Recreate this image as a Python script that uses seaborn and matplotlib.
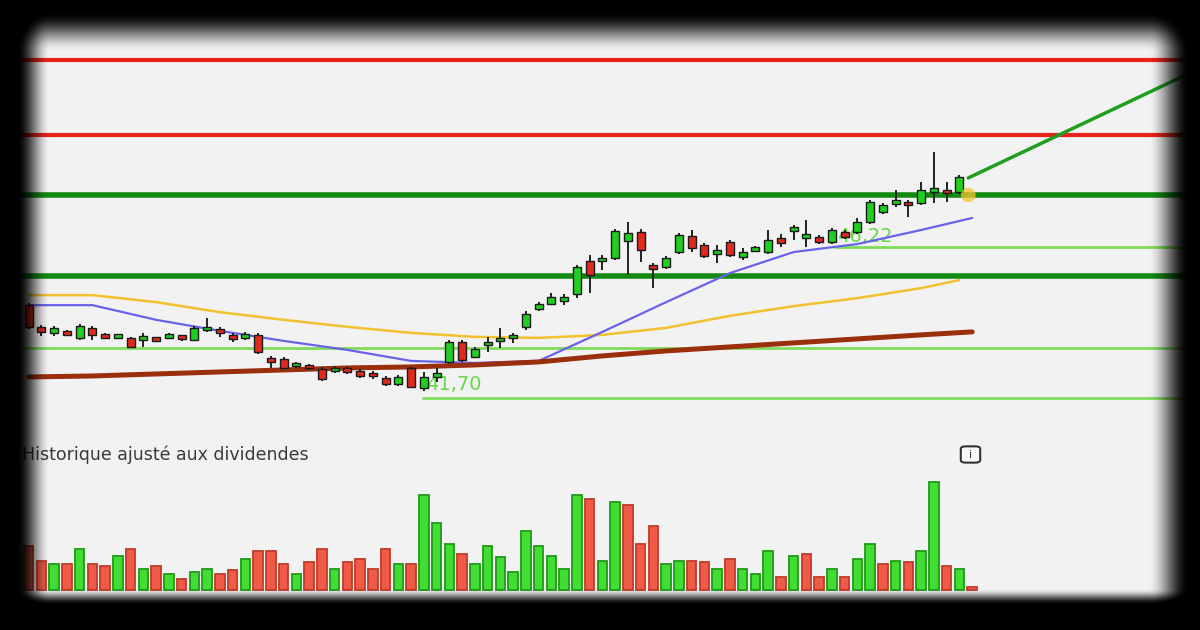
import numpy as np
import pandas as pd
import matplotlib
matplotlib.use("Agg")
import matplotlib.pyplot as plt
import seaborn as sns
from matplotlib.patches import FancyBboxPatch

# ---------------- data ----------------
opens = [44.48, 43.83, 43.65, 43.68, 43.50, 43.80, 43.59, 43.53, 43.50, 43.47,
         43.50, 43.53, 43.56, 43.44, 43.74, 43.77, 43.59, 43.53, 43.59, 42.87,
         42.87, 42.66, 42.69, 42.57, 42.51, 42.60, 42.51, 42.45, 42.30, 42.12,
         42.60, 42.00, 42.33, 42.78, 43.38, 42.93, 43.29, 43.41, 43.50, 43.83,
         44.37, 44.51, 44.63, 44.81, 45.80, 45.80, 45.89, 46.40, 46.67, 45.68,
         45.62, 46.07, 46.55, 46.28, 46.04, 46.37, 45.92, 46.13, 46.07, 46.49,
         46.70, 46.52, 46.52, 46.37, 46.67, 46.67, 46.97, 47.27, 47.54, 47.57,
         47.54, 47.87, 47.93, 47.87]
highs = [44.54, 43.89, 43.86, 43.74, 43.92, 43.86, 43.65, 43.62, 43.53, 43.65,
         43.53, 43.65, 43.59, 43.86, 44.10, 43.83, 43.65, 43.68, 43.65, 42.96,
         42.93, 42.78, 42.72, 42.63, 42.66, 42.63, 42.57, 42.51, 42.36, 42.39,
         42.63, 42.48, 42.60, 43.44, 43.44, 43.23, 43.53, 43.80, 43.65, 44.31,
         44.57, 44.84, 44.81, 45.68, 45.98, 45.98, 46.76, 46.97, 46.76, 45.74,
         45.95, 46.64, 46.73, 46.34, 46.28, 46.43, 46.19, 46.25, 46.73, 46.61,
         46.88, 47.03, 46.58, 46.79, 46.73, 47.09, 47.63, 47.54, 47.93, 47.63,
         48.17, 49.07, 48.17, 48.38]
lows = [43.77, 43.56, 43.56, 43.56, 43.44, 43.44, 43.47, 43.47, 43.20, 43.23,
        43.38, 43.50, 43.41, 43.41, 43.68, 43.53, 43.38, 43.44, 43.02, 42.60,
        42.57, 42.60, 42.54, 42.21, 42.45, 42.42, 42.30, 42.27, 42.06, 42.06,
        42.00, 41.91, 42.18, 42.72, 42.78, 42.90, 43.08, 43.20, 43.35, 43.74,
        44.31, 44.48, 44.48, 44.69, 44.84, 45.53, 45.83, 45.38, 45.77, 44.99,
        45.56, 46.01, 46.07, 45.89, 45.74, 45.92, 45.83, 46.07, 46.01, 46.22,
        46.43, 46.22, 46.31, 46.31, 46.46, 46.61, 46.91, 47.21, 47.42, 47.12,
        47.48, 47.54, 47.57, 47.81]
closes = [43.83, 43.68, 43.80, 43.62, 43.86, 43.59, 43.53, 43.59, 43.23, 43.53,
          43.44, 43.59, 43.50, 43.80, 43.83, 43.65, 43.47, 43.59, 43.08, 42.81,
          42.60, 42.75, 42.60, 42.27, 42.60, 42.48, 42.36, 42.36, 42.12, 42.33,
          42.03, 42.33, 42.45, 43.38, 42.84, 43.17, 43.38, 43.50, 43.59, 44.22,
          44.51, 44.72, 44.69, 45.62, 45.38, 45.89, 46.70, 46.64, 46.13, 45.56,
          45.89, 46.58, 46.19, 45.95, 46.10, 45.98, 46.07, 46.19, 46.43, 46.34,
          46.82, 46.58, 46.37, 46.73, 46.52, 46.97, 47.57, 47.48, 47.60, 47.48,
          47.93, 47.99, 47.84, 48.32]

volumes = [135, 90, 80, 80, 125, 80, 75, 105, 125, 65,
           75, 50, 35, 55, 65, 50, 60, 95, 120, 120,
           80, 50, 85, 125, 65, 85, 95, 65, 125, 80,
           80, 290, 205, 140, 110, 80, 135, 100, 55, 180,
           135, 105, 65, 290, 280, 90, 270, 260, 140, 195,
           80, 90, 90, 85, 65, 95, 65, 50, 120, 40,
           105, 110, 40, 65, 40, 95, 140, 80, 90, 85,
           120, 330, 75, 65, 10]
volume_up = "rrgrgrrgrgrgrggrrgrrrgrrgrrrrgrgggrgggggggggrggrrrggrrgrgggrgrrgrggrgrggrgr"

ma_idx = [0, 5, 10, 15, 20, 25, 30, 35, 40, 45, 50, 55, 60, 65, 70, 74]
ma_blue = [44.48, 44.48, 44.04, 43.71, 43.41, 43.14, 42.81, 42.75, 42.81, 43.68,
           44.57, 45.44, 46.07, 46.31, 46.73, 47.09]
ma_yellow_idx = [0, 5, 10, 15, 20, 25, 30, 35, 40, 45, 50, 55, 60, 65, 70, 73]
ma_yellow = [44.78, 44.78, 44.57, 44.27, 44.04, 43.83, 43.65, 43.53, 43.50, 43.59,
             43.80, 44.16, 44.45, 44.69, 44.99, 45.23]
ma_brown = [42.33, 42.36, 42.42, 42.48, 42.54, 42.60, 42.63, 42.69, 42.78, 42.96,
            43.11, 43.23, 43.35, 43.47, 43.59, 43.68]

resistances = [51.82, 49.57]
strong_levels = [47.78, 45.35]
support_levels = [43.20, 46.22, 41.70]
support_start = [-3.0, 63.2, 30.85]
support_labels = ["", "46,22", "41,70"]
support_label_pos = [(None, None), (63.4, 46.55), (31.2, 42.09)]
trend_x = [73.7, 91.9]
trend_y = [48.29, 51.58]
last_idx, last_price = 73.7, 47.78
footer_text = "Historique ajusté aux dividendes"

# ---------------- figure ----------------
sns.set_theme(style="white")
plt.rcParams["font.family"] = ["DejaVu Sans"]

W, H = 1200, 630
fig = plt.figure(figsize=(12, 6.3), dpi=100, facecolor="#f2f2f2")

XL = (-2.25, 91.87)
YL = (40.742, 53.616)
axp = fig.add_axes([0, 1 - 430 / H, 1, 430 / H])
axv = fig.add_axes([0, 0, 1, 200 / H])
for a in (axp, axv):
    a.set_facecolor("#f2f2f2")

n = len(opens)
idx = np.arange(n)

# level lines
for lv in resistances:
    axp.axhline(lv, color="#e8231c", lw=3, zorder=1)
for lv in strong_levels:
    axp.axhline(lv, color="#128a12", lw=4, zorder=1)
for lv, st in zip(support_levels, support_start):
    axp.hlines(lv, st, XL[1] + 2, color="#7fdc5a", lw=2, zorder=1)
for lab, (lx, ly) in zip(support_labels, support_label_pos):
    if lab:
        axp.text(lx, ly, lab, color="#66d84a", fontsize=14, va="center",
                 ha="left", zorder=1.5)
axp.plot(trend_x, trend_y, color="#1f9e1f", lw=2.5, zorder=2,
         solid_capstyle="round")

# moving averages via seaborn
df_ma = pd.DataFrame({"idx": ma_idx, "blue": ma_blue, "brown": ma_brown})
df_y = pd.DataFrame({"idx": ma_yellow_idx, "yellow": ma_yellow})
sns.lineplot(data=df_y, x="idx", y="yellow", ax=axp, color="#f2c12e", lw=1.8,
             zorder=2, legend=False)
sns.lineplot(data=df_ma, x="idx", y="blue", ax=axp, color="#6a63ea", lw=1.6,
             zorder=2, legend=False)
sns.lineplot(data=df_ma, x="idx", y="brown", ax=axp, color="#9b2e0c", lw=3.6,
             zorder=2, legend=False)

# candles
o = np.array(opens); c = np.array(closes)
hi = np.array(highs); lo = np.array(lows)
up = c >= o
axp.vlines(idx, lo, hi, color="#222222", lw=1.4, zorder=3)
bot = np.minimum(o, c)
hgt = np.abs(c - o)
minh = 0.1
adj_bot = np.where(hgt < minh, (o + c) / 2 - minh / 2, bot)
adj_h = np.maximum(hgt, minh)
axp.bar(idx, adj_h, bottom=adj_bot, width=0.62,
        color=np.where(up, "#1fcf1f", "#e02a1e"), edgecolor="#1a1a1a",
        lw=1.0, zorder=4)
axp.scatter([last_idx], [last_price], s=110, color="#f5c430", alpha=0.75,
            zorder=5, edgecolor="none")

# volume
vcols = ["#42dd32" if ch == "g" else "#ef5b47" for ch in volume_up]
vedge = ["#1e9a18" if ch == "g" else "#c23a28" for ch in volume_up]
axv.bar(np.arange(len(volumes)), volumes, width=0.74, color=vcols,
        edgecolor=vedge, lw=1.3, zorder=2)

for a in (axp, axv):
    a.set_xlim(*XL)
    a.set_axis_off()
axp.set_ylim(*YL)
axv.set_ylim(-122.5, 490)

fig.text(22 / W, 1 - 455 / H, footer_text, fontsize=12.5, color="#3c3a36",
         va="center", ha="left")
box = FancyBboxPatch((962 / W, 1 - 462 / H), 17 / W, 15 / H,
                     boxstyle="round,pad=0.001,rounding_size=0.004",
                     transform=fig.transFigure, facecolor="#f8f8f8",
                     edgecolor="#333333", lw=1.5, zorder=10)
fig.add_artist(box)
fig.text(970.5 / W, 1 - 454.5 / H, "i", fontsize=8, color="#333333",
         ha="center", va="center", zorder=11)

# vignette overlay
yy, xx = np.mgrid[0:H, 0:W].astype(float)
L, R, T, B = 50.0, 1148.0, 52.0, 588.0
wl, wr, wt, wb = 33.0, 40.0, 40.0, 16.0
dx = np.where(xx < L, (L - xx) / wl, np.where(xx > R, (xx - R) / wr, 0.0))
dy = np.where(yy < T, (T - yy) / wt, np.where(yy > B, (yy - B) / wb, 0.0))
r = np.clip(np.sqrt(dx ** 2 + dy ** 2), 0, 1)
alpha = r * r * (3 - 2 * r)
rgba = np.zeros((H, W, 4))
rgba[..., 3] = alpha
axo = fig.add_axes([0, 0, 1, 1], zorder=20)
axo.imshow(rgba, extent=(0, W, H, 0), aspect="auto", interpolation="bilinear")
axo.set_xlim(0, W); axo.set_ylim(H, 0)
axo.set_axis_off()

fig.savefig("out.png", dpi=100, facecolor=fig.get_facecolor())
